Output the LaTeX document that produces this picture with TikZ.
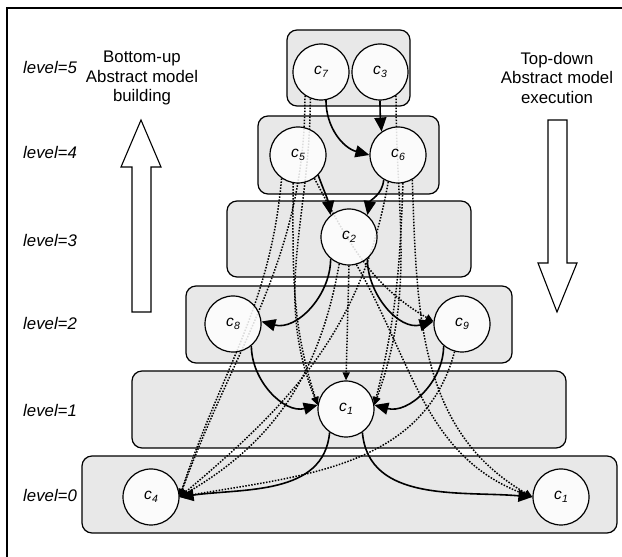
\documentclass[tikz,border=0pt]{standalone}
\usepackage{fontspec}
\setmainfont{Liberation Sans}
\usetikzlibrary{arrows.meta}
\pgfdeclarelayer{background}
\pgfdeclarelayer{foreground}
\pgfsetlayers{background,main,foreground}

% italic concept name with an italic subscript
\newcommand{\cname}[1]{{\itshape c\kern0.3pt\raisebox{-0.4ex}{\fontsize{10.5}{10.5}\selectfont #1}}}

\begin{document}
\begin{tikzpicture}[x=1pt,y=1pt,
  band/.style={draw=black, line width=1.2pt, fill=gray!18, rounded corners=10pt},
  cnode/.style={circle, draw=black, line width=1.2pt, fill=white, fill opacity=0.86,
                text opacity=1, minimum size=56pt, inner sep=0pt,
                font=\fontsize{15.5}{17}\selectfont},
  lvl/.style={anchor=west, font=\fontsize{16.8}{20}\selectfont\itshape, inner sep=0pt},
  caption/.style={align=center, font=\fontsize{16.8}{19.5}\selectfont, inner sep=0pt},
  strong/.style={line width=1.6pt, -{Triangle[length=14pt,width=12pt]}},
  weak/.style={line width=1.5pt, dash pattern=on 1.5pt off 1.5pt,
               -{Triangle[length=8pt,width=7pt]}},
  hollow/.style={draw=black, line width=1.1pt, fill=white}
]
\useasboundingbox (0,0) rectangle (622,557);

% frame
\draw[line width=1.5pt] (7,0) -- (7,549) -- (622,549);

% level bands
\begin{pgfonlayer}{background}
  \draw[band] (287,451) rectangle (410,527);
  \draw[band] (258,363) rectangle (439,441);
  \draw[band] (227,280) rectangle (471,356);
  \draw[band] (186,194) rectangle (512,271);
  \draw[band] (132,109) rectangle (566,186);
  \draw[band] (82,24) rectangle (617,101);
\end{pgfonlayer}

% level labels
\node[lvl] (l5) at (23,489) {level=5};
\node[lvl] (l4) at (23,404) {level=4};
\node[lvl] (l3) at (23,317) {level=3};
\node[lvl] (l2) at (23,234) {level=2};
\node[lvl] (l1) at (23,147) {level=1};
\node[lvl] (l0) at (23,62) {level=0};

% direction captions and hollow arrows
\node[caption] (up) at (142,479) {Bottom-up\\Abstract model\\building};
\node[caption] (down) at (557,479) {Top-down\\Abstract model\\execution};
\draw[hollow] (132,245) -- (132,390) -- (121,390) -- (141,437) -- (161,390)
              -- (151,390) -- (151,245) -- cycle;
\draw[hollow] (548,437) -- (548,294) -- (538,294) -- (557,245) -- (577,294)
              -- (567,294) -- (567,437) -- cycle;

% concepts
\begin{pgfonlayer}{foreground}
  \node[cnode] (c7) at (321,485) {\cname{7}};
  \node[cnode] (c3) at (380,485) {\cname{3}};
  \node[cnode] (c5) at (298,402) {\cname{5}};
  \node[cnode] (c6) at (398,402) {\cname{6}};
  \node[cnode] (c2) at (349,320) {\cname{2}};
  \node[cnode] (c8) at (233,233) {\cname{8}};
  \node[cnode] (c9) at (462,233) {\cname{9}};
  \node[cnode] (c1) at (346,148) {\cname{1}};
  \node[cnode] (c4) at (151,60) {\cname{4}};
  \node[cnode] (c1b) at (561,60) {\cname{1}};
\end{pgfonlayer}

% indirect (transitive) links
\draw[weak] (c7.-124) to[out=-90,in=70] (c4.east);
\draw[weak] (c5.-125) to[out=-95,in=72] (c4.east);
\draw[weak] (c7.-112) to[out=-90,in=112] (c1.172);
\draw[weak] (c5.-100) to[out=-90,in=108] (c1.172);
\draw[weak] (c5.-55) to[out=-62,in=150] (c9.175);
\draw[weak] (c2.-90) -- (c1.90);
\draw[weak] (c3.-56) to[out=-90,in=70] (c1.8);
\draw[weak] (c6.-80) to[out=-92,in=76] (c1.8);
\draw[weak] (c6.-60) to[out=-88,in=150] (c1b.west);
\draw[weak] (c2.-75) to[out=-60,in=160] (c1b.west);
\draw[weak] (c9.-105) to[out=-105,in=10] (c4.east);
\draw[weak] (c6.-110) to[out=-100,in=40] (c4.east);
\draw[weak] (c2.-110) to[out=-100,in=30] (c4.east);

% direct links
\draw[strong] (c7.-80) to[out=-90,in=165] (c6.west);
\draw[strong] (c3.-90) to[out=-90,in=95] (c6.125);
\draw[strong] (c5.-45) to[out=-70,in=100] (c2.130);
\draw[strong] (c6.-120) to[out=-95,in=80] (c2.50);
\draw[strong] (c2.-130) to[out=-90,in=-15] (c8.5);
\draw[strong] (c2.-50) to[out=-90,in=-165] (c9.175);
\draw[strong] (c8.-50) to[out=-90,in=195] (c1.172);
\draw[strong] (c9.-130) to[out=-90,in=-15] (c1.8);
\draw[strong] (c1.-125) to[out=-95,in=8] (c4.east);
\draw[strong] (c1.-55) to[out=-85,in=175] (c1b.west);
\end{tikzpicture}
\end{document}
